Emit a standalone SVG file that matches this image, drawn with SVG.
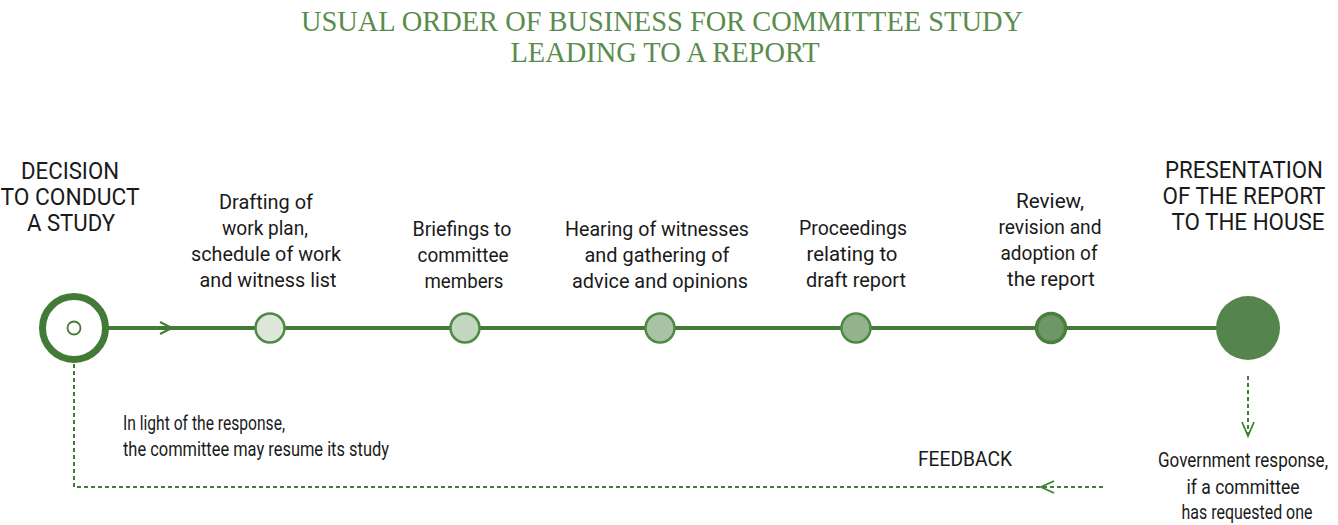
<svg xmlns="http://www.w3.org/2000/svg" width="1338" height="525" viewBox="0 0 1338 525">
<style>
.title{font-family:"Liberation Serif",serif;font-size:30px;fill:#5a8c4e;text-anchor:middle}
.big{font-family:Roboto,"Liberation Sans",sans-serif;font-size:24px;fill:#1a1a1a;text-anchor:middle}
.lbl{font-family:Roboto,"Liberation Sans",sans-serif;font-size:20px;fill:#1a1a1a;text-anchor:middle}
.note{font-family:Roboto,"Liberation Sans",sans-serif;font-size:19.5px;fill:#1a1a1a}
.step{stroke:#4f8a45;stroke-width:2.5}
.dash{fill:none;stroke:#3f7f35;stroke-width:2;stroke-dasharray:4 3}
.chev{fill:none;stroke:#3f7f35;stroke-width:1.8}
</style>
<rect width="1338" height="525" fill="#ffffff"/>
<g id="title">
<text class="title" x="662" y="31" textLength="722" lengthAdjust="spacingAndGlyphs">USUAL ORDER OF BUSINESS FOR COMMITTEE STUDY</text>
<text class="title" x="665" y="62" textLength="309" lengthAdjust="spacingAndGlyphs">LEADING TO A REPORT</text>
</g>
<g id="connectors">
<line x1="108" y1="328" x2="1220" y2="328" stroke="#437b36" stroke-width="4"/>
<polyline points="160,322 172,328 160,334" fill="none" stroke="#437b36" stroke-width="2"/>
<polyline class="dash" points="74,336 74,487 1105,487"/>
<polyline class="chev" points="1054,481 1041,487 1054,493"/>
<line class="dash" x1="1248" y1="376" x2="1248" y2="434"/>
<polyline class="chev" points="1242,422 1248,436 1254,422"/>
</g>
<g id="start">
<circle cx="74" cy="328" r="31.5" fill="#ffffff" stroke="#437b36" stroke-width="7"/>
<circle cx="74" cy="328" r="6.5" fill="#ffffff" stroke="#437b36" stroke-width="1.8"/>
<text class="big" x="70" y="179" textLength="98" lengthAdjust="spacingAndGlyphs">DECISION</text>
<text class="big" x="70" y="205" textLength="139" lengthAdjust="spacingAndGlyphs">TO CONDUCT</text>
<text class="big" x="71" y="231" textLength="88" lengthAdjust="spacingAndGlyphs">A STUDY</text>
</g>
<g id="step1">
<circle class="step" cx="270" cy="328" r="14.5" fill="#dde7d9"/>
<text class="lbl" x="266" y="209" textLength="94" lengthAdjust="spacingAndGlyphs">Drafting of</text>
<text class="lbl" x="265" y="235" textLength="86" lengthAdjust="spacingAndGlyphs">work plan,</text>
<text class="lbl" x="266" y="261" textLength="150" lengthAdjust="spacingAndGlyphs">schedule of work</text>
<text class="lbl" x="268" y="287" textLength="137" lengthAdjust="spacingAndGlyphs">and witness list</text>
</g>
<g id="step2">
<circle class="step" cx="465" cy="328" r="14.5" fill="#c3d7c0"/>
<text class="lbl" x="462" y="236" textLength="99" lengthAdjust="spacingAndGlyphs">Briefings to</text>
<text class="lbl" x="463" y="262" textLength="91" lengthAdjust="spacingAndGlyphs">committee</text>
<text class="lbl" x="464" y="288" textLength="79" lengthAdjust="spacingAndGlyphs">members</text>
</g>
<g id="step3">
<circle class="step" cx="660" cy="328" r="14.5" fill="#a9c4a4"/>
<text class="lbl" x="657" y="236" textLength="184" lengthAdjust="spacingAndGlyphs">Hearing of witnesses</text>
<text class="lbl" x="657" y="262" textLength="145" lengthAdjust="spacingAndGlyphs">and gathering of</text>
<text class="lbl" x="660" y="288" textLength="176" lengthAdjust="spacingAndGlyphs">advice and opinions</text>
</g>
<g id="step4">
<circle class="step" cx="856" cy="328" r="14.5" fill="#93b38c"/>
<text class="lbl" x="853" y="235" textLength="108" lengthAdjust="spacingAndGlyphs">Proceedings</text>
<text class="lbl" x="852" y="261" textLength="91" lengthAdjust="spacingAndGlyphs">relating to</text>
<text class="lbl" x="856" y="287" textLength="100" lengthAdjust="spacingAndGlyphs">draft report</text>
</g>
<g id="step5">
<circle cx="1051" cy="328" r="14.5" fill="#6e9768" stroke="#4a7f3c" stroke-width="3.5"/>
<text class="lbl" x="1050" y="208" textLength="68" lengthAdjust="spacingAndGlyphs">Review,</text>
<text class="lbl" x="1050" y="234" textLength="103" lengthAdjust="spacingAndGlyphs">revision and</text>
<text class="lbl" x="1049" y="260" textLength="97" lengthAdjust="spacingAndGlyphs">adoption of</text>
<text class="lbl" x="1051" y="286" textLength="88" lengthAdjust="spacingAndGlyphs">the report</text>
</g>
<g id="end">
<circle cx="1248" cy="328" r="32" fill="#55854d"/>
<text class="big" x="1244" y="178" textLength="158" lengthAdjust="spacingAndGlyphs">PRESENTATION</text>
<text class="big" x="1244" y="204" textLength="163" lengthAdjust="spacingAndGlyphs">OF THE REPORT</text>
<text class="big" x="1248" y="230" textLength="153" lengthAdjust="spacingAndGlyphs">TO THE HOUSE</text>
</g>
<g id="response">
<text class="lbl" x="1243" y="467" font-size="17.5" textLength="170" lengthAdjust="spacingAndGlyphs">Government response,</text>
<text class="lbl" x="1243" y="494" font-size="17.5" textLength="113" lengthAdjust="spacingAndGlyphs">if a committee</text>
<text class="lbl" x="1247" y="519" font-size="17.5" textLength="131" lengthAdjust="spacingAndGlyphs">has requested one</text>
</g>
<g id="notes">
<text class="note" x="123" y="430" textLength="162" lengthAdjust="spacingAndGlyphs">In light of the response,</text>
<text class="note" x="123" y="456" textLength="266" lengthAdjust="spacingAndGlyphs">the committee may resume its study</text>
<text class="note" x="918" y="466" font-size="17" textLength="94" lengthAdjust="spacingAndGlyphs">FEEDBACK</text>
</g>
</svg>
